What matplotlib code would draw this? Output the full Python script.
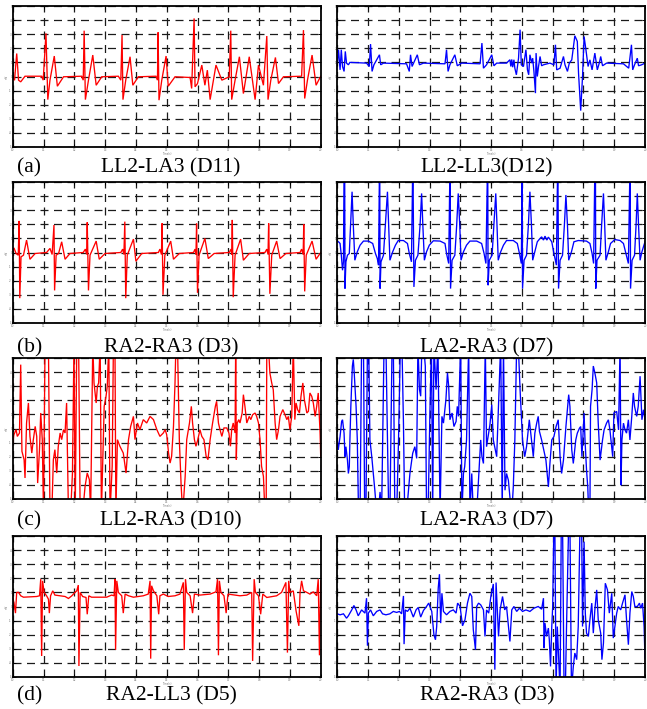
import numpy as np
import matplotlib
matplotlib.use('Agg')
import matplotlib.pyplot as plt

# ---- traces (time in s, amplitude in grid units) ----
# (a) LL2-LA3 (D11)
d11_t = [10.00, 10.06, 10.13, 10.19, 10.26, 10.40, 10.94, 10.99, 11.08, 11.14, 11.21, 11.35, 11.45, 11.65,
         12.24, 12.29, 12.32, 12.36, 12.46, 12.60, 12.71, 12.89, 13.43, 13.51, 13.55, 13.58, 13.67, 13.81,
         13.90, 14.08, 14.65, 14.70, 14.72, 14.75, 14.84, 14.98, 15.05, 15.27, 15.76, 15.81, 15.89, 15.92,
         16.00, 16.14, 16.24, 16.32, 16.41, 16.60, 16.79, 17.03, 17.08, 17.11, 17.22, 17.36, 17.49, 17.68,
         17.87, 17.98, 18.14, 18.25, 18.29, 18.38, 18.53, 18.63, 18.79, 19.38, 19.44, 19.48, 19.57, 19.72,
         19.85, 20.00]
d11_v = [-0.14, -0.26, 1.63, -0.26, -0.38, 0.02, 0.02, -0.26, 3.06, -1.64, -0.26, 1.45, -0.69, -0.02,
         0.02, -0.26, 3.25, -1.64, -0.26, 1.52, -0.62, -0.02, 0.02, -0.26, 2.94, -1.64, -0.26, 1.40,
         -0.62, -0.02, 0.02, -0.26, 3.13, -1.68, -0.26, 1.45, -0.69, -0.02, -0.07, -0.85, 4.12, -0.73,
         -0.50, 0.81, -0.62, 0.45, -1.64, 0.81, -0.26, -0.02, 3.25, -1.64, -0.26, 1.40, -1.21, 1.40,
         -1.64, 0.81, -0.62, 2.87, -1.64, -0.26, 1.35, -0.50, -0.02, 0.02, 3.29, -1.56, -0.26, 1.52,
         -0.62, 0.02]

# LL2-LL3 (D12)
d12_t = [10.00, 10.04, 10.09, 10.13, 10.17, 10.22, 10.26, 10.30, 10.36, 10.41, 10.95, 11.04, 11.08, 11.13,
         11.19, 11.37, 11.41, 11.50, 12.25, 12.34, 12.38, 12.43, 12.60, 12.67, 12.80, 13.50, 13.55, 13.60,
         13.66, 13.82, 13.90, 14.04, 14.64, 14.70, 14.75, 14.85, 15.02, 15.09, 15.18, 15.50, 15.61, 15.64,
         15.67, 15.70, 15.74, 15.77, 15.82, 15.89, 15.94, 15.98, 16.05, 16.13, 16.18, 16.22, 16.26, 16.32,
         16.35, 16.39, 16.44, 16.46, 16.50, 16.54, 16.59, 16.64, 16.70, 16.91, 17.04, 17.09, 17.13, 17.24,
         17.35, 17.40, 17.48, 17.54, 17.62, 17.72, 17.80, 17.84, 17.91, 17.97, 18.02, 18.08, 18.15, 18.21,
         18.28, 18.37, 18.45, 18.52, 18.56, 18.62, 18.75, 19.30, 19.47, 19.56, 19.60, 19.66, 19.75, 19.79,
         19.89, 20.00]
d12_v = [0.95, 1.90, 0.47, 1.90, 0.71, 0.36, 1.78, 0.95, 0.83, 1.00, 0.95, 0.71, 2.30, 0.36,
         0.83, 1.54, 0.83, 0.95, 0.90, 0.36, 1.54, 0.71, 1.54, 0.83, 0.95, 0.90, 1.90, 0.36,
         0.83, 1.54, 0.76, 0.95, 0.90, 2.37, 0.59, 0.83, 1.54, 0.76, 0.95, 0.95, 1.19, 0.71,
         1.21, 0.66, 1.19, 0.59, 0.12, 1.30, 3.32, 0.83, 0.71, 1.90, 0.47, 0.12, 1.54, 0.95,
         1.30, 0.36, -1.18, 1.66, 0.00, 0.71, 1.42, 0.76, 0.83, 0.95, 0.83, 2.25, 0.47, 0.59,
         1.42, 0.83, 0.36, 0.95, 1.18, 2.89, 2.49, 0.24, -2.42, 0.00, 2.84, 1.90, 0.71, 1.18,
         0.47, 1.66, 0.47, 1.00, 1.42, 0.76, 0.95, 0.90, 0.59, 2.25, 0.47, 0.83, 1.30, 0.76,
         0.83, 0.95]

# (b) RA2-RA3 (D3)
d3b_t = [10.00, 10.04, 10.11, 10.18, 10.21, 10.23, 10.27, 10.35, 10.45, 10.56, 10.73, 11.10, 11.21, 11.28,
         11.34, 11.36, 11.41, 11.49, 11.59, 11.70, 11.86, 12.29, 12.36, 12.40, 12.42, 12.46, 12.51, 12.71,
         12.81, 13.00, 13.51, 13.57, 13.61, 13.64, 13.67, 13.72, 13.92, 14.00, 14.19, 14.73, 14.78, 14.83,
         14.85, 14.88, 14.94, 15.13, 15.22, 15.41, 15.87, 15.92, 15.95, 15.97, 16.00, 16.05, 16.24, 16.35,
         16.54, 17.03, 17.09, 17.11, 17.13, 17.16, 17.22, 17.40, 17.49, 17.68, 18.19, 18.25, 18.29, 18.31,
         18.35, 18.41, 18.57, 18.68, 18.87, 19.33, 19.38, 19.43, 19.45, 19.48, 19.53, 19.72, 19.85, 20.00]
d3b_v = [0.00, 0.33, -0.07, -0.19, 2.24, -3.24, -0.31, -0.19, 0.88, -0.48, -0.07, 0.00, 0.29, -0.14,
         1.95, -2.69, -0.19, -0.07, 0.76, -0.48, -0.07, 0.00, 0.24, -0.14, 2.14, -2.69, -0.19, 0.81,
         -0.48, -0.07, 0.00, 0.24, -0.14, 2.19, -3.24, -0.19, 0.95, -0.62, -0.07, 0.00, 0.24, -0.14,
         2.07, -3.00, -0.19, 0.81, -0.48, -0.07, 0.00, 0.24, -0.14, 2.05, -2.86, -0.19, 1.00, -0.43,
         -0.07, 0.00, 0.24, -0.14, 2.31, -3.17, -0.19, 0.95, -0.55, -0.07, 0.00, 0.24, -0.14, 2.07,
         -2.93, -0.19, 0.81, -0.43, -0.07, 0.00, 0.24, -0.14, 2.00, -2.76, -0.19, 0.81, -0.48, 0.00]

# LA2-RA3 (D7), clean recording
d7b_t = [10.04, 10.09, 10.13, 10.17, 10.20, 10.22, 10.24, 10.25, 10.28, 10.33, 10.39, 10.43, 10.48, 10.52,
         10.57, 10.65, 10.74, 10.85, 11.01, 11.15, 11.24, 11.30, 11.34, 11.37, 11.38, 11.39, 11.42, 11.50,
         11.56, 11.63, 11.67, 11.71, 11.80, 11.89, 11.98, 12.15, 12.28, 12.34, 12.41, 12.45, 12.46, 12.49,
         12.54, 12.62, 12.69, 12.74, 12.78, 12.83, 12.90, 12.99, 13.12, 13.34, 13.50, 13.55, 13.62, 13.66,
         13.67, 13.68, 13.73, 13.82, 13.88, 13.93, 13.98, 14.02, 14.10, 14.20, 14.31, 14.53, 14.69, 14.77,
         14.83, 14.88, 14.89, 14.90, 14.94, 15.03, 15.09, 15.15, 15.19, 15.23, 15.31, 15.40, 15.50, 15.72,
         15.85, 15.92, 15.98, 16.01, 16.02, 16.07, 16.15, 16.21, 16.26, 16.31, 16.35, 16.42, 16.50, 16.59,
         16.64, 16.70, 16.75, 16.81, 16.86, 16.97, 17.04, 17.12, 17.16, 17.17, 17.19, 17.24, 17.32, 17.38,
         17.43, 17.48, 17.52, 17.61, 17.69, 17.83, 18.10, 18.21, 18.28, 18.33, 18.37, 18.39, 18.40, 18.44,
         18.54, 18.59, 18.65, 18.69, 18.73, 18.81, 18.88, 19.02, 19.19, 19.30, 19.38, 19.46, 19.51, 19.52,
         19.53, 19.58, 19.66, 19.71, 19.75, 19.79, 19.84, 19.90, 20.00]
d7b_v = [0.76, 0.64, -0.19, -1.26, -0.66, 6.0, 6.0, -2.56, -0.66, -0.19, -0.07, 1.94, 4.31, 1.94,
         -0.55, 0.05, 0.52, 0.81, 0.81, 0.64, -0.07, -0.43, -0.90, 6.0, 6.0, -2.56, -0.66, -0.19,
         1.94, 4.31, 1.94, -0.55, 0.05, 0.52, 0.85, 0.85, 0.64, -0.07, -0.66, 6.0, 6.0, -2.44,
         -0.55, -0.19, 1.94, 4.19, 1.94, -0.55, 0.05, 0.52, 0.83, 0.81, 0.64, -0.07, -0.78, 6.0,
         6.0, -2.56, -0.55, -0.19, 1.94, 4.19, 1.94, -0.55, 0.05, 0.52, 0.81, 0.81, 0.64, -0.07,
         -0.78, 6.0, 6.0, -2.32, -0.55, -0.19, 1.94, 4.19, 1.94, -0.55, 0.05, 0.52, 0.85, 0.85,
         0.64, -0.07, -0.78, 6.0, -2.56, -0.55, -0.19, 1.94, 4.31, 1.94, -0.55, 0.05, 0.76, 1.00,
         1.11, 0.88, 1.16, 0.88, 1.09, 0.76, -0.07, -0.90, 6.0, 6.0, -2.56, -0.55, -0.19, 1.94,
         4.08, 1.94, -0.55, 0.05, 0.76, 0.85, 0.81, 0.64, -0.07, -0.78, 6.0, 6.0, -2.56, -0.55,
         -0.19, 1.94, 4.19, 1.94, -0.55, 0.05, 0.64, 0.92, 0.85, 0.64, -0.07, -0.78, 6.0, 6.0,
         -2.56, -0.55, -0.19, 1.94, 4.19, 1.94, -0.55, 0.05, 0.76]

# (c) LL2-RA3 (D10)
d10_t = [10.00, 10.04, 10.11, 10.15, 10.22, 10.26, 10.30, 10.37, 10.40, 10.45, 10.51, 10.56, 10.62, 10.67,
         10.73, 10.78, 10.81, 10.87, 10.91, 10.96, 11.00, 11.05, 11.16, 11.21, 11.27, 11.32, 11.37, 11.43,
         11.48, 11.54, 11.59, 11.65, 11.70, 11.75, 11.81, 11.88, 11.94, 11.99, 12.03, 12.08, 12.14, 12.19,
         12.27, 12.35, 12.42, 12.49, 12.53, 12.60, 12.64, 12.71, 12.75, 12.79, 12.84, 12.88, 12.92, 12.97,
         13.03, 13.07, 13.12, 13.16, 13.23, 13.27, 13.32, 13.35, 13.40, 13.48, 13.59, 13.68, 13.76, 13.83,
         13.92, 13.97, 14.05, 14.13, 14.24, 14.35, 14.46, 14.57, 14.68, 14.78, 14.89, 14.95, 15.00, 15.06,
         15.11, 15.16, 15.22, 15.27, 15.30, 15.35, 15.41, 15.47, 15.52, 15.60, 15.65, 15.74, 15.80, 15.84,
         15.90, 15.95, 16.01, 16.08, 16.14, 16.21, 16.28, 16.34, 16.41, 16.49, 16.58, 16.62, 16.68, 16.73,
         16.79, 16.86, 16.95, 17.02, 17.07, 17.11, 17.16, 17.22, 17.24, 17.26, 17.29, 17.34, 17.38, 17.45,
         17.49, 17.54, 17.60, 17.68, 17.73, 17.79, 17.87, 17.92, 17.98, 18.03, 18.08, 18.14, 18.19, 18.23,
         18.25, 18.30, 18.35, 18.41, 18.46, 18.52, 18.57, 18.63, 18.68, 18.77, 18.84, 18.90, 18.95, 19.00,
         19.06, 19.11, 19.16, 19.20, 19.25, 19.31, 19.36, 19.42, 19.47, 19.55, 19.60, 19.65, 19.71, 19.76,
         19.82, 19.87, 19.92, 19.98, 20.00]
d10_v = [-1.03, -0.44, -0.08, -0.56, -0.32, 4.53, -1.62, -2.21, -3.51, 0.39, 1.81, -0.56, -1.74, -0.79,
         0.15, -0.56, -3.87, -1.50, 1.10, -0.79, -6.0, 6.0, 6.0, -6.0, -6.0, -2.21, -1.50, -3.16,
         -1.26, -0.32, -0.79, -0.08, -0.32, 1.81, -6.0, -6.0, -3.16, 6.0, -6.0, 6.0, 6.0, -6.0,
         -6.0, -4.10, -3.16, -3.63, -6.0, 6.0, 3.23, 1.81, 2.99, 3.23, 6.0, -6.0, -2.68, 1.57,
         2.28, 2.99, 6.0, -6.0, -2.68, 6.0, 6.0, -6.0, -0.79, -1.26, -1.74, -3.16, -0.79, 0.15,
         0.86, -0.79, 0.39, -0.08, 0.63, 0.39, 0.86, 0.63, -0.08, -0.56, -0.32, -0.08, -0.44, -1.74,
         -2.45, -1.97, 0.15, 3.23, 6.0, 6.0, -0.79, -4.10, -6.0, -3.39, -0.79, 0.39, 1.57, 0.39,
         -0.79, -1.26, -0.79, -0.08, -0.56, -0.79, -1.97, -2.21, -0.79, 0.39, 1.57, 1.93, 0.39, -0.08,
         -0.56, 0.04, 0.04, -0.32, -1.26, -0.08, 0.39, -0.32, 6.0, -2.21, 0.39, 0.63, 0.39, 1.10,
         2.40, 1.57, 0.39, 0.86, 0.63, 0.98, 1.10, 0.86, 0.39, -0.79, -2.68, -3.39, -6.0, -6.0,
         6.0, 6.0, 3.94, 3.23, 2.75, 0.39, -0.79, -0.08, 0.86, 1.34, 0.98, 0.63, 0.86, -0.08,
         0.86, 6.0, 0.63, 1.81, 1.34, 1.10, 2.28, 3.23, 2.04, 1.10, 1.22, 2.52, 2.28, 1.81,
         0.86, 1.57, 2.52, -0.32, -1.97]

# LA2-RA3 (D7), disturbed recording
d7c_t = [10.00, 10.03, 10.09, 10.14, 10.17, 10.22, 10.25, 10.28, 10.33, 10.36, 10.39, 10.41, 10.44, 10.49,
         10.52, 10.55, 10.61, 10.65, 10.69, 10.74, 10.79, 10.85, 10.89, 10.93, 10.98, 11.02, 11.06, 11.12,
         11.17, 11.22, 11.28, 11.33, 11.39, 11.44, 11.52, 11.58, 11.63, 11.67, 11.71, 11.78, 11.82, 11.87,
         11.93, 11.99, 12.05, 12.10, 12.15, 12.19, 12.25, 12.36, 12.45, 12.52, 12.58, 12.62, 12.67, 12.71,
         12.75, 12.80, 12.86, 12.90, 12.95, 13.01, 13.06, 13.10, 13.14, 13.21, 13.27, 13.34, 13.40, 13.45,
         13.53, 13.58, 13.62, 13.66, 13.73, 13.79, 13.86, 13.90, 13.94, 14.01, 14.05, 14.10, 14.14, 14.20,
         14.27, 14.31, 14.37, 14.42, 14.53, 14.66, 14.70, 14.75, 14.81, 14.85, 14.92, 14.96, 15.02, 15.07,
         15.18, 15.31, 15.36, 15.40, 15.45, 15.50, 15.56, 15.61, 15.67, 15.72, 15.77, 15.83, 15.88, 15.94,
         16.02, 16.09, 16.15, 16.24, 16.31, 16.37, 16.42, 16.48, 16.53, 16.57, 16.64, 16.78, 16.86, 16.91,
         16.97, 17.04, 17.11, 17.18, 17.24, 17.29, 17.35, 17.43, 17.52, 17.56, 17.62, 17.67, 17.75, 17.80,
         17.87, 17.91, 17.95, 18.02, 18.05, 18.10, 18.14, 18.17, 18.21, 18.23, 18.28, 18.32, 18.37, 18.43,
         18.48, 18.54, 18.62, 18.67, 18.75, 18.81, 18.86, 18.95, 18.99, 19.08, 19.14, 19.19, 19.22, 19.25,
         19.30, 19.35, 19.40, 19.46, 19.51, 19.57, 19.62, 19.66, 19.73, 19.78, 19.84, 19.90, 19.95, 20.00]
d7c_v = [-0.81, -1.52, -0.57, 0.50, 0.62, -0.33, -2.00, -1.29, -2.24, -3.19, -2.71, -0.81, 1.57, 4.43,
         4.90, 3.95, 1.57, -0.81, -6.0, -6.0, 6.0, 6.0, -6.0, -6.0, 6.0, 6.0, -0.81, -2.00,
         -3.19, -4.38, -6.0, -6.0, -4.50, -6.0, 6.0, 6.0, -0.81, -6.0, -6.0, 6.0, 6.0, -6.0,
         -6.0, -0.81, 6.0, 6.0, 0.38, -6.0, -6.0, -3.19, -1.76, -1.29, -2.12, 6.0, 2.76, 2.29,
         6.0, 6.0, 4.43, -6.0, -6.0, 1.10, 6.0, -6.0, 6.0, 2.76, 6.0, -6.0, 0.86, 0.38,
         2.05, 3.95, 3.00, 0.62, 1.10, 0.14, 0.50, 1.57, 0.86, 6.0, -6.0, -3.19, -2.71, -0.81,
         6.0, -6.0, -3.19, -6.0, -6.0, -0.81, -2.00, -2.48, 6.0, -1.29, -0.33, 0.26, 1.69, -0.81,
         -2.00, 6.0, -6.0, 6.0, -4.38, -3.19, -3.67, -4.86, -6.0, -4.14, -0.81, 6.0, 6.0, 2.76,
         -0.81, -2.00, -1.29, 0.62, -0.81, -2.00, -0.33, 0.38, 0.86, -0.21, -0.81, -2.24, -4.14, -2.48,
         -0.81, -0.57, 0.14, 0.62, -2.00, -3.19, -2.24, 0.14, 2.40, 1.57, -1.52, -2.48, -0.81, -0.33,
         0.02, 0.14, -2.00, 1.10, -0.81, -2.95, -4.14, -6.0, -6.0, 1.57, 2.76, 4.43, 3.95, 3.24,
         0.38, -2.24, -0.81, -0.10, 0.38, 0.62, -0.10, -2.00, 1.10, 1.21, -0.10, 6.0, -4.02, -0.81,
         0.38, -0.10, -0.33, 0.62, -0.81, 0.86, 2.52, 1.57, 0.86, 1.57, 3.71, 0.62, 1.33, 0.62]

# (d) RA2-LL3 (D5)
d5_t = [10.00, 10.04, 10.09, 10.13, 10.19, 10.26, 10.35, 10.78, 10.87, 10.91, 10.94, 10.97, 11.02, 11.10,
        11.16, 11.19, 11.23, 11.30, 11.37, 11.70, 11.81, 11.92, 12.02, 12.08, 12.13, 12.15, 12.19, 12.27,
        12.38, 12.42, 12.47, 12.56, 13.05, 13.21, 13.29, 13.32, 13.34, 13.38, 13.43, 13.54, 13.59, 13.65,
        13.76, 13.92, 14.24, 14.40, 14.46, 14.48, 14.51, 14.57, 14.68, 14.74, 14.78, 14.89, 15.05, 15.27,
        15.43, 15.54, 15.57, 15.61, 15.65, 15.76, 15.84, 15.90, 16.08, 16.41, 16.60, 16.65, 16.68, 16.71,
        16.76, 16.86, 16.93, 16.99, 17.38, 17.60, 17.76, 17.79, 17.84, 17.88, 17.98, 18.05, 18.12, 18.25,
        18.57, 18.73, 18.87, 18.92, 18.96, 19.00, 19.11, 19.20, 19.24, 19.29, 19.33, 19.38, 19.44, 19.55,
        19.65, 19.76, 19.87, 19.92, 19.96, 20.00]
d5_v = [0.64, 0.28, -0.47, 1.00, 1.00, 0.76, 0.66, 0.71, 0.76, 1.94, -3.51, 1.82, 1.00, 0.76,
        0.52, -0.47, 0.76, 1.11, 0.81, 0.71, 0.57, 0.76, 1.00, 1.11, 1.52, -4.22, 1.00, 0.71,
        0.64, -0.55, 0.76, 0.66, 0.66, 0.81, 0.76, 1.94, -3.08, 1.82, 1.00, 0.76, -0.47, 0.88,
        0.76, 0.66, 0.76, 0.88, 1.82, -3.70, 1.47, 1.11, 0.76, -0.55, 0.76, 0.88, 0.71, 0.76,
        0.88, 1.71, -3.08, 1.94, 1.00, 0.76, -0.47, 0.88, 0.81, 0.88, 1.04, 1.94, -3.46, 1.82,
        1.00, 0.76, -0.47, 0.88, 0.76, 0.81, 1.00, -3.86, 1.94, 1.00, 0.76, -0.55, 0.88, 0.64,
        0.76, 1.00, 1.71, -3.27, 1.82, 1.00, 1.11, -0.31, -0.78, -1.37, 1.00, 1.82, 1.11, 1.00,
        0.88, 1.04, 0.76, 1.94, -3.46, 1.82]

# RA2-RA3 (D3), disturbed recording
d3d_t = [10.00, 10.09, 10.20, 10.30, 10.36, 10.47, 10.54, 10.61, 10.68, 10.79, 10.90, 10.95, 10.98, 11.01,
         11.08, 11.17, 11.28, 11.39, 11.47, 11.58, 11.71, 11.82, 11.93, 12.02, 12.09, 12.15, 12.17, 12.21,
         12.28, 12.36, 12.47, 12.56, 12.63, 12.71, 12.80, 12.90, 12.97, 13.07, 13.14, 13.19, 13.23, 13.28,
         13.32, 13.36, 13.40, 13.45, 13.55, 13.66, 13.77, 13.86, 13.91, 13.99, 14.07, 14.15, 14.23, 14.31,
         14.37, 14.42, 14.49, 14.53, 14.59, 14.66, 14.75, 14.80, 14.85, 14.92, 14.99, 15.07, 15.12, 15.16,
         15.20, 15.24, 15.29, 15.37, 15.44, 15.50, 15.61, 15.67, 15.74, 15.83, 15.92, 16.02, 16.13, 16.26,
         16.39, 16.53, 16.64, 16.70, 16.72, 16.75, 16.80, 16.86, 16.89, 16.93, 16.97, 17.00, 17.04, 17.07,
         17.11, 17.15, 17.24, 17.28, 17.32, 17.37, 17.41, 17.45, 17.52, 17.56, 17.61, 17.67, 17.72, 17.78,
         17.83, 17.89, 17.94, 17.97, 18.02, 18.06, 18.10, 18.16, 18.21, 18.27, 18.32, 18.37, 18.43, 18.48,
         18.56, 18.60, 18.65, 18.71, 18.78, 18.84, 18.92, 18.97, 19.02, 19.08, 19.13, 19.21, 19.27, 19.35,
         19.40, 19.46, 19.51, 19.57, 19.62, 19.67, 19.75, 19.82, 19.86, 19.92, 19.97, 20.00]
d3d_v = [-0.52, -0.59, -0.52, -0.83, -0.66, -0.24, 0.07, -0.24, -0.66, -0.24, -0.47, 0.59, -2.78, -0.47,
         -0.24, -0.66, -0.35, -0.24, -0.52, -0.59, -0.52, -0.35, -0.42, -0.35, -0.52, 0.75, -2.67, -0.24,
         -0.35, -0.12, -0.75, -0.24, -0.07, -0.75, -0.28, 0.00, 0.24, -0.35, -2.00, -2.36, -1.42, 1.30,
         2.29, -1.18, 0.94, -0.35, -0.59, -0.35, -0.24, -0.47, 0.24, 0.00, -1.37, -0.94, 0.24, 0.94,
         0.71, -1.65, -3.07, 0.00, 0.24, 0.12, -0.24, -2.12, -0.24, -0.47, 0.71, 1.60, -4.48, 1.70,
         -0.24, -2.12, -0.24, 0.71, -0.24, 0.00, -2.48, -0.24, 0.00, -0.35, -0.12, -0.35, -0.24, -0.35,
         -0.12, 0.00, -0.19, 0.59, -2.95, -1.18, -2.12, -1.53, -2.36, -4.25, -1.42, 0.00, 6.0, 6.0,
         -6.0, -1.42, -6.0, 6.0, 6.0, -6.0, -6.0, -1.42, 6.0, 6.0, -6.0, -4.25, -3.30, -3.77,
         -1.42, 6.0, 6.0, -1.42, 4.60, -0.47, -1.89, -2.12, -0.94, 0.24, -1.89, -0.24, 1.18, -0.94,
         -1.89, -3.77, -2.59, 1.65, 1.18, -0.47, 0.94, -2.24, -1.42, -0.47, 0.00, -0.24, 0.24, 0.83,
         -0.94, -2.71, -0.47, 1.06, 0.71, 0.00, 0.00, 0.24, -0.12, 0.24, -1.42, -3.66]

panels = [
    # (trace t, trace v, colour, column, row, label, title)
    (d11_t, d11_v, 'red', 0, 0, '(a)', 'LL2-LA3 (D11)'),
    (d12_t, d12_v, 'blue', 1, 0, '', 'LL2-LL3(D12)'),
    (d3b_t, d3b_v, 'red', 0, 1, '(b)', 'RA2-RA3 (D3)'),
    (d7b_t, d7b_v, 'blue', 1, 1, '', 'LA2-RA3 (D7)'),
    (d10_t, d10_v, 'red', 0, 2, '(c)', 'LL2-RA3 (D10)'),
    (d7c_t, d7c_v, 'blue', 1, 2, '', 'LA2-RA3 (D7)'),
    (d5_t, d5_v, 'red', 0, 3, '(d)', 'RA2-LL3 (D5)'),
    (d3d_t, d3d_v, 'blue', 1, 3, '', 'RA2-RA3 (D3)'),
]

W, H = 647, 709
fig = plt.figure(figsize=(W / 100, H / 100), dpi=100)

col_left = [12.7, 337.3]
col_width = [308.0, 307.7]
row_top = [6, 182, 358, 536]
row_h = 141
title_y = [168, 348, 521, 696]
title_x = [171, 487]

for t, v, c, col, row, lab, title in panels:
    x0 = col_left[col] / W
    y0 = 1 - (row_top[row] + row_h) / H
    ax = fig.add_axes([x0, y0, col_width[col] / W, row_h / H])
    ax.plot(t, v, color=c, lw=0.95, solid_joinstyle='miter')
    ax.set_xlim(10, 20)
    ax.set_ylim(-5, 5)
    ax.set_xticks(np.arange(10, 21, 1))
    ax.set_yticks(np.arange(-5, 6, 1))
    ax.set_xticklabels([str(k) for k in range(10, 21)])
    ax.set_yticklabels(['%d' % k for k in range(-5, 6)])
    ax.tick_params(direction='in', length=2.5, width=0.7, top=True, right=True,
                   labelsize=2, labelcolor='0.45', pad=0.5)
    ax.grid(True, color='0.1', lw=0.9, linestyle=(0, (6.4, 4.4)))
    for s in ax.spines.values():
        s.set_linewidth(1.3)
        s.set_color('black')
    ax.set_xlabel('Time(s)', fontsize=1.8, color='0.45', labelpad=0.2)
    ax.set_ylabel('mV', fontsize=1.8, color='0.45', labelpad=0.5)

    ty = 1 - title_y[row] / H
    fig.text(title_x[col] / W, ty, title, ha='center', va='center',
             family='Liberation Serif', fontsize=15.5)
    if lab:
        fig.text(17 / W, ty, lab, ha='left', va='center',
                 family='Liberation Serif', fontsize=15.5)

fig.savefig('out.png', dpi=100)
